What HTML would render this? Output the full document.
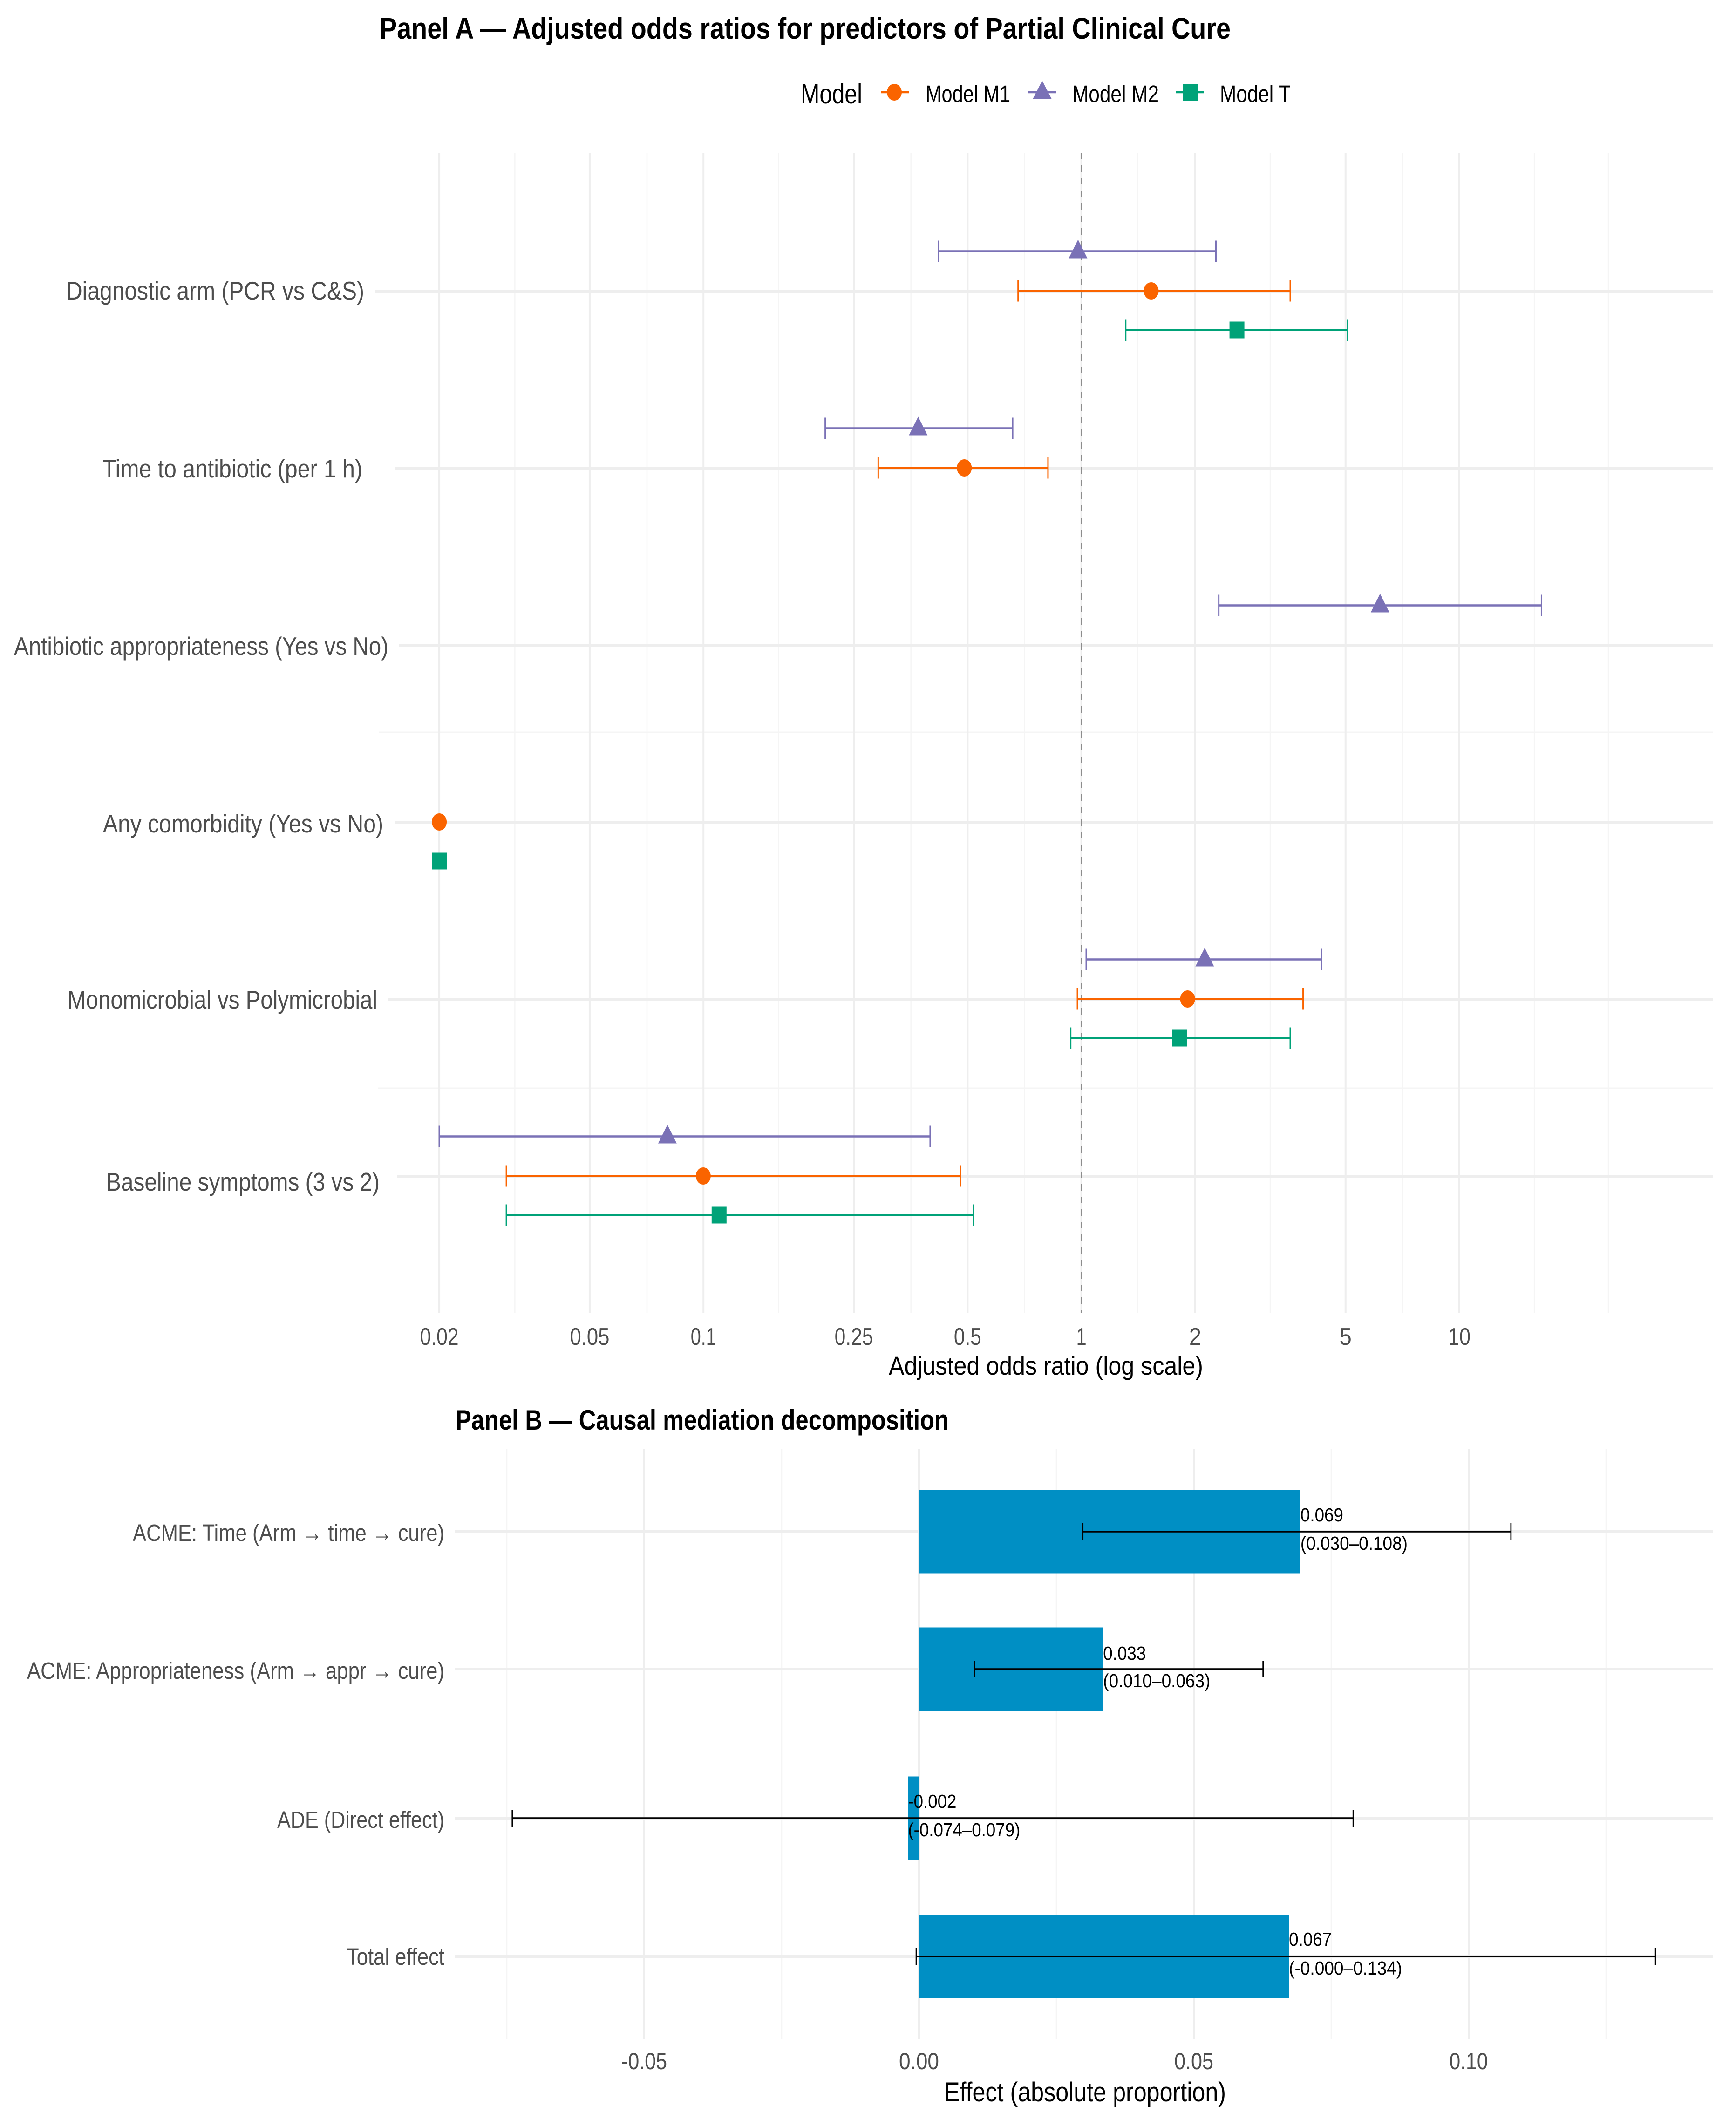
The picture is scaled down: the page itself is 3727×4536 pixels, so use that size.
<!DOCTYPE html>
<html lang="en">
<head>
<meta charset="utf-8">
<title>Panel A and Panel B forest and mediation chart</title>
<style>
html,body{margin:0;padding:0;background:#fff;}
svg{display:block;font-family:"Liberation Sans",sans-serif;}
</style>
</head>
<body>
<svg id="chart" xmlns="http://www.w3.org/2000/svg" width="3727" height="4536" viewBox="0 0 3727 4536">
  <rect x="0" y="0" width="3727" height="4536" fill="#ffffff"/>
  <g id="panelAGrid"></g>
  <g id="panelAMarks"></g>
  <g id="panelBGrid"></g>
  <g id="panelBMarks"></g>
  <text x="815" y="83" font-size="64" font-weight="700" fill="#000" textLength="1827" lengthAdjust="spacingAndGlyphs">Panel A — Adjusted odds ratios for predictors of Partial Clinical Cure</text>
  <text x="1719" y="222" font-size="59" fill="#000" textLength="132" lengthAdjust="spacingAndGlyphs">Model</text>
  <g>
    <line x1="1891" x2="1951" y1="198" y2="198" stroke="#FA6400" stroke-width="4.5"/>
    <ellipse cx="1920" cy="198" rx="16" ry="18" fill="#FA6400"/>
    <text x="1987" y="219" font-size="51" fill="#000" textLength="182" lengthAdjust="spacingAndGlyphs">Model M1</text>
  </g>
  <g>
    <line x1="2208" x2="2268" y1="198" y2="198" stroke="#7A71B6" stroke-width="4.5"/>
    <polygon points="2237.5,173 2257.5,212 2217.5,212" fill="#7A71B6"/>
    <text x="2302" y="219" font-size="51" fill="#000" textLength="186" lengthAdjust="spacingAndGlyphs">Model M2</text>
  </g>
  <g>
    <line x1="2525" x2="2584" y1="198" y2="198" stroke="#00A278" stroke-width="4.5"/>
    <rect x="2539" y="180" width="32" height="36" fill="#00A278"/>
    <text x="2619" y="219" font-size="51" fill="#000" textLength="152" lengthAdjust="spacingAndGlyphs">Model T</text>
  </g>
  <text x="1908" y="2951" font-size="56" fill="#000" textLength="675" lengthAdjust="spacingAndGlyphs">Adjusted odds ratio (log scale)</text>
  <text x="978" y="3069" font-size="60" font-weight="700" fill="#000" textLength="1059" lengthAdjust="spacingAndGlyphs">Panel B — Causal mediation decomposition</text>
  <text x="2027" y="4511" font-size="58" fill="#000" textLength="605" lengthAdjust="spacingAndGlyphs">Effect (absolute proportion)</text>
</svg>
<script>
// ---------- Panel A data ----------
const categoriesA = ["Diagnostic arm (PCR vs C&S)", "Time to antibiotic (per 1 h)", "Antibiotic appropriateness (Yes vs No)", "Any comorbidity (Yes vs No)", "Monomicrobial vs Polymicrobial", "Baseline symptoms (3 vs 2)"];
const m1Est  = [1.53, 0.49, null, 0.02, 1.91, 0.0999];
const m1Low  = [0.68, 0.29, null, null, 0.976, 0.0301];
const m1High = [3.57, 0.816, null, null, 3.86, 0.479];
const m2Est  = [0.98, 0.37, 6.17, null, 2.12, 0.0803];
const m2Low  = [0.419, 0.21, 2.31, null, 1.03, 0.02];
const m2High = [2.27, 0.658, 16.5, null, 4.32, 0.398];
const tEst   = [2.58, null, null, 0.02, 1.82, 0.11];
const tLow   = [1.31, null, null, null, 0.937, 0.0301];
const tHigh  = [5.06, null, null, null, 3.57, 0.519];
const tickValuesA = [0.02, 0.05, 0.1, 0.25, 0.5, 1, 2, 5, 10];
const tickLabelsA = ["0.02", "0.05", "0.1", "0.25", "0.5", "1", "2", "5", "10"];
const minorTicksA = [0.0317, 0.0709, 0.158, 0.354, 0.707, 1.41, 3.16, 7.07, 15.8, 24.8];

// ---------- Panel B data ----------
const categoriesB = ["ACME: Time (Arm → time → cure)", "ACME: Appropriateness (Arm → appr → cure)", "ADE (Direct effect)", "Total effect"];
const effects = [0.0694, 0.0335, -0.002, 0.0673];
const effectLow = [0.0298, 0.0101, -0.074, -0.0005];
const effectHigh = [0.1077, 0.0626, 0.079, 0.134];
const effectLabels = ["0.069", "0.033", "-0.002", "0.067"];
const intervalLabels = ["(0.030–0.108)", "(0.010–0.063)", "(-0.074–0.079)", "(-0.000–0.134)"];
const tickValuesB = [-0.05, 0, 0.05, 0.1];
const tickLabelsB = ["-0.05", "0.00", "0.05", "0.10"];
const minorTicksB = [-0.075, -0.025, 0.025, 0.075, 0.125];

// ---------- Layout (not data) ----------
const NS = "http://www.w3.org/2000/svg";
const A = {top: 328, bottom: 2819, right: 3678, x0: 2321.6, perDecade: 811.4, row0: 625.5, rowStep: 380, tickY: 2887};
const B = {top: 3110, bottom: 4378, left: 977, right: 3678, x0: 1973, perUnit: 11800, barH: 179, tickY: 4442};
const labelBoxA = [[142,640,643],[220,558,1025],[30,804,1406],[221,602,1787],[145,665,2165],[228,587,2556]];
const gridStartA = [806, 848, 856, 847, 834, 852];
const labelBoxB = [[285,669,3308],[58,896,3604],[595,359,3924],[744,210,4218]];
const rowCentersB = [3288, 3583, 3903, 4200];
const tickWidthsA = [83, 85, 55, 83, 59, 22, 26, 26, 48];
const tickWidthsB = [98, 86, 84, 83];
const ciWidths = [230, 230, 241, 243];
const labelBaselines = [[3266,3327],[3563,3622],[3881,3942],[4177,4239]];

const xA = v => A.x0 + A.perDecade * Math.log10(v);
const yA = i => A.row0 + A.rowStep * i;
const xB = v => B.x0 + B.perUnit * v;
const yB = i => rowCentersB[i];

function mk(tag, parent, attrs) {
  const e = document.createElementNS(NS, tag);
  for (const k in attrs) e.setAttribute(k, attrs[k]);
  parent.appendChild(e);
  return e;
}
function ln(parent, x1, y1, x2, y2, color, w) {
  return mk("line", parent, {x1: x1, y1: y1, x2: x2, y2: y2, stroke: color, "stroke-width": w});
}
function tx(parent, str, x, y, size, color, width, anchor) {
  const e = mk("text", parent, {x: x, y: y, "font-size": size, fill: color, textLength: width, lengthAdjust: "spacingAndGlyphs", "text-anchor": anchor || "start"});
  e.textContent = str;
  return e;
}

const gA = document.getElementById("panelAGrid");
const mA = document.getElementById("panelAMarks");
const gB = document.getElementById("panelBGrid");
const mB = document.getElementById("panelBMarks");
let el;

// Panel A grid
minorTicksA.forEach(v => {
  el = ln(gA, xA(v), A.top, xA(v), A.bottom, "#F5F5F5", 2.5);
  
  
});
el = ln(gA, 813, 1572, A.right, 1572, "#F5F5F5", 3);


el = ln(gA, 812, 2336, A.right, 2336, "#F5F5F5", 3);


tickValuesA.forEach((v, i) => {
  el = ln(gA, xA(v), A.top, xA(v), A.bottom, "#EEEEEE", 4);
  
  
  el = tx(gA, tickLabelsA[i], xA(v), A.tickY, 52, "#4D4D4D", tickWidthsA[i], "middle");
  
  
});
categoriesA.forEach((c, i) => {
  el = ln(gA, gridStartA[i], yA(i), A.right, yA(i), "#EEEEEE", 6);
  
  
  el = tx(gA, c, labelBoxA[i][0], labelBoxA[i][2], 55, "#4D4D4D", labelBoxA[i][1]);
  
  
});
el = mk("line", gA, {x1: xA(1), y1: A.top, x2: xA(1), y2: A.bottom, stroke: "#8C8C8C", "stroke-width": 2.8, "stroke-dasharray": "14 13"});



// Panel A series
function drawInterval(i, low, high, dy, color) {
  if (low[i] === null || high[i] === null) return;
  const y = yA(i) + dy;
  el = ln(mA, xA(low[i]), y, xA(high[i]), y, color, 4.6);
  
  
  el = ln(mA, xA(low[i]), y - 23, xA(low[i]), y + 23, color, 3);
  
  
  el = ln(mA, xA(high[i]), y - 23, xA(high[i]), y + 23, color, 3);
  
  
}
categoriesA.forEach((c, i) => {
  drawInterval(i, m2Low, m2High, -86, "#7A71B6");
  drawInterval(i, m1Low, m1High, -1, "#FA6400");
  drawInterval(i, tLow, tHigh, 83, "#00A278");
  if (m2Est[i] !== null) {
    const x = xA(m2Est[i]), y = yA(i) - 86;
    el = mk("polygon", mA, {points: [x, y - 25, x + 20, y + 15, x - 20, y + 15].join(" "), fill: "#7A71B6"});
    
    
  }
  if (m1Est[i] !== null) {
    el = mk("ellipse", mA, {cx: xA(m1Est[i]), cy: yA(i) - 1, rx: 16, ry: 18.5, fill: "#FA6400"});
    
    
  }
  if (tEst[i] !== null) {
    el = mk("rect", mA, {x: xA(tEst[i]) - 16, y: yA(i) + 83 - 18, width: 32, height: 36, fill: "#00A278"});
    
    
  }
});

// Panel B grid
minorTicksB.forEach(v => {
  el = ln(gB, xB(v), B.top, xB(v), B.bottom, "#F5F5F5", 2.5);
  
  
});
tickValuesB.forEach((v, i) => {
  el = ln(gB, xB(v), B.top, xB(v), B.bottom, "#EEEEEE", 4);
  
  
  el = tx(gB, tickLabelsB[i], xB(v), B.tickY, 50, "#4D4D4D", tickWidthsB[i], "middle");
  
  
});
categoriesB.forEach((c, i) => {
  el = ln(gB, B.left, yB(i), B.right, yB(i), "#EEEEEE", 6);
  
  
  el = tx(gB, c, labelBoxB[i][0], labelBoxB[i][2], 51, "#4D4D4D", labelBoxB[i][1]);
  
  
});

// Panel B bars, intervals, labels
categoriesB.forEach((c, i) => {
  const x0 = xB(Math.min(0, effects[i]));
  const x1 = xB(Math.max(0, effects[i]));
  el = mk("rect", mB, {x: x0, y: yB(i) - B.barH / 2, width: x1 - x0, height: B.barH, fill: "#008FC4"});
  
  
  el = ln(mB, xB(effectLow[i]), yB(i), xB(effectHigh[i]), yB(i), "#000000", 3.6);
  
  
  el = ln(mB, xB(effectLow[i]), yB(i) - 18, xB(effectLow[i]), yB(i) + 18, "#000000", 2.8);
  
  
  el = ln(mB, xB(effectHigh[i]), yB(i) - 18, xB(effectHigh[i]), yB(i) + 18, "#000000", 2.8);
  
  
  el = tx(mB, effectLabels[i], xB(effects[i]), labelBaselines[i][0], 41, "#000000", effects[i] < 0 ? 104 : 92);
  
  
  el = tx(mB, intervalLabels[i], xB(effects[i]), labelBaselines[i][1], 41, "#000000", ciWidths[i]);
  
  
});
</script>
</body>
</html>
